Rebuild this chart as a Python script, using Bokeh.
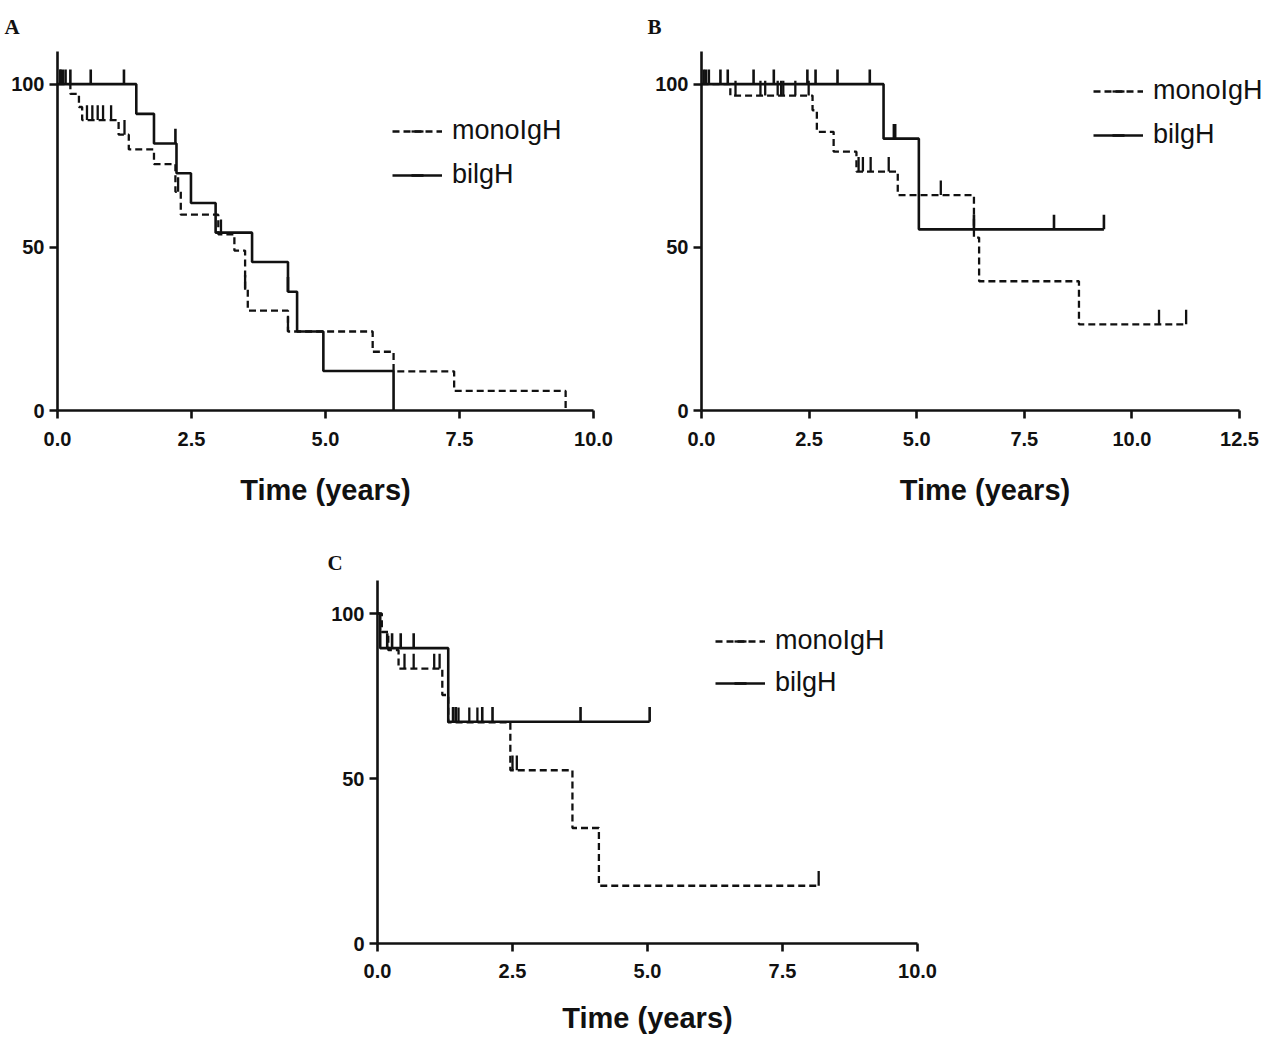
import numpy as np
from bokeh.plotting import figure
from bokeh.layouts import column, row
from bokeh.models import (ColumnDataSource, Range1d, FixedTicker, Legend, LegendItem,
                          NumeralTickFormatter, Spacer)
from bokeh.embed import file_html
from bokeh.resources import INLINE

# ---------------- data ----------------
# Panel A
a_mono_t = [0, 0.24, 0.40, 0.46, 1.14, 1.33, 1.80, 2.20, 2.30, 3.00, 3.30, 3.50, 3.55, 4.30, 5.88, 6.27, 7.40, 9.48]
a_mono_s = [100, 97, 93, 89, 84.5, 80, 75.5, 67, 60, 54, 49, 37, 30.6, 24.2, 18, 12, 6, 0]
a_mono_cens = [0.05, 0.10, 0.55, 0.65, 0.75, 0.85, 1.00, 1.25, 2.25, 3.05, 3.50, 4.30]
a_bi_t = [0, 1.47, 1.80, 2.22, 2.49, 2.95, 3.63, 4.30, 4.47, 4.96, 6.27]
a_bi_s = [100, 90.9, 81.8, 72.7, 63.6, 54.5, 45.5, 36.4, 24.2, 12.1, 0]
a_bi_cens = [0.06, 0.15, 0.24, 0.62, 1.24, 2.20, 4.30]

# Panel B
b_mono_t = [0, 0.67, 2.58, 2.68, 3.07, 3.60, 4.56, 6.33, 6.45, 8.77, 11.26]
b_mono_s = [100, 96.5, 92, 85.4, 79.3, 73.2, 66, 53, 39.6, 26.4, 26.4]
b_mono_cens = [0.79, 1.37, 1.48, 1.77, 1.85, 1.90, 2.18, 2.49, 3.65, 3.75, 3.93, 4.35, 5.56, 10.63, 11.26]
b_bi_t = [0, 4.23, 5.05, 9.35]
b_bi_s = [100, 83.3, 55.5, 55.5]
b_bi_cens = [0.05, 0.10, 0.17, 0.44, 0.61, 1.21, 1.68, 2.46, 2.65, 3.16, 3.91, 4.47, 4.50, 6.33, 8.19, 9.35]

# Panel C
c_mono_t = [0, 0.08, 0.20, 0.39, 1.20, 1.31, 2.46, 3.61, 4.10, 8.17]
c_mono_s = [100, 94.4, 88.9, 83.3, 75.3, 67, 52.5, 35, 17.5, 17.5]
c_mono_cens = [0.50, 0.67, 1.05, 1.15, 1.40, 1.50, 1.70, 1.85, 2.50, 2.58, 8.17]
c_bi_t = [0, 0.05, 1.31, 5.04]
c_bi_s = [100, 89.5, 67.2, 67.2]
c_bi_cens = [0.18, 0.27, 0.43, 0.67, 1.40, 1.45, 1.94, 2.13, 3.76, 5.04]

series_labels = ["monoIgH", "bilgH"]
x_ticks_A = [0, 2.5, 5, 7.5, 10]
x_ticks_B = [0, 2.5, 5, 7.5, 10, 12.5]
x_ticks_C = [0, 2.5, 5, 7.5, 10]
y_ticks = [0, 50, 100]
x_label = "Time (years)"

# ---------------- style ----------------
INK = "#111111"
FONT = "Liberation Sans"
CENS_LEN = 4.5   # censor tick length, in % units


def levels_at(times, surv, cens):
    t = np.asarray(times, dtype=float)
    s = np.asarray(surv, dtype=float)
    c = np.asarray(cens, dtype=float)
    idx = np.searchsorted(t, c, side="right") - 1
    idx = np.clip(idx, 0, len(s) - 1)
    for k, ci in enumerate(c):
        if idx[k] > 0 and ci == t[idx[k]] and s[idx[k]] == 0:
            idx[k] -= 1
    return s[idx]


def make_panel(letter, xmax, xend, xticks, mono, bi, fw, fh, bl, br, bt, bb,
               title_off, title_standoff, leg_loc, leg_spacing, lab_standoff, axlab_standoff):
    p = figure(frame_width=fw, frame_height=fh, min_border_left=bl, min_border_right=br,
               min_border_top=bt, min_border_bottom=bb,
               x_range=Range1d(0, xend), y_range=Range1d(0, 110),
               output_backend="svg", toolbar_location=None,
               background_fill_color="white", border_fill_color="white")
    p.outline_line_color = None
    p.grid.visible = False

    p.title.text = letter
    p.title.text_font = "Liberation Serif"
    p.title.text_font_style = "bold"
    p.title.text_font_size = "21px"
    p.title.align = "left"
    p.title.offset = title_off
    p.title.standoff = title_standoff
    p.title.text_color = INK

    for ax in (p.xaxis[0], p.yaxis[0]):
        ax.axis_line_width = 2.6
        ax.axis_line_color = INK
        ax.major_tick_line_width = 2.6
        ax.major_tick_line_color = INK
        ax.major_tick_out = 8
        ax.major_tick_in = 0
        ax.minor_tick_line_color = None
        ax.major_label_text_font = FONT
        ax.major_label_text_font_style = "bold"
        ax.major_label_text_font_size = "20px"
        ax.major_label_text_color = INK
    p.xaxis.bounds = (0, xmax)
    p.xaxis.ticker = FixedTicker(ticks=xticks)
    p.xaxis.formatter = NumeralTickFormatter(format="0.0")
    p.xaxis.major_label_standoff = lab_standoff
    p.yaxis.ticker = FixedTicker(ticks=y_ticks)
    p.yaxis.formatter = NumeralTickFormatter(format="0")
    p.yaxis.major_label_standoff = 5
    p.xaxis.axis_label = x_label
    p.xaxis.axis_label_text_font = FONT
    p.xaxis.axis_label_text_font_style = "bold"
    p.xaxis.axis_label_text_font_size = "29px"
    p.xaxis.axis_label_text_color = INK
    p.xaxis.axis_label_standoff = axlab_standoff

    (mt, ms, mc), (bt_, bs, bc) = mono, bi
    src_m = ColumnDataSource(dict(t=mt, s=ms))
    src_b = ColumnDataSource(dict(t=bt_, s=bs))
    r_m = p.step("t", "s", source=src_m, mode="after", line_color=INK, line_width=2.3,
                 line_dash="7 4")
    r_b = p.step("t", "s", source=src_b, mode="after", line_color=INK, line_width=2.6)

    # censor ticks: short vertical marks standing on the curve
    lm = levels_at(mt, ms, mc)
    lb = levels_at(bt_, bs, bc)
    tick_px = CENS_LEN * fh / 110.0
    cm = ColumnDataSource(dict(x=mc, y=lm + CENS_LEN / 2))
    cb = ColumnDataSource(dict(x=bc, y=lb + CENS_LEN / 2))
    t_m = p.scatter("x", "y", source=cm, marker="dash", angle=np.pi / 2, size=tick_px,
                    line_color=INK, line_width=2.3)
    t_b = p.scatter("x", "y", source=cb, marker="dash", angle=np.pi / 2, size=tick_px,
                    line_color=INK, line_width=2.6)

    legend = Legend(items=[LegendItem(label=series_labels[0], renderers=[r_m, t_m]),
                           LegendItem(label=series_labels[1], renderers=[r_b, t_b])],
                    location=leg_loc, border_line_alpha=0, background_fill_alpha=0,
                    label_text_font=FONT, label_text_font_size="27px",
                    label_text_color=INK, glyph_width=50, glyph_height=30,
                    label_height=30, spacing=leg_spacing, padding=0, margin=0,
                    label_standoff=10)
    p.add_layout(legend)
    return p


pA = make_panel("A", 10, 10, x_ticks_A, (a_mono_t, a_mono_s, a_mono_cens),
                (a_bi_t, a_bi_s, a_bi_cens), 536, 359, 57, 43, 51, 95, -53, 25, (335, 220), 13,
                13, 25)
pB = make_panel("B", 12.5, 12.5 * 567 / 538, x_ticks_B, (b_mono_t, b_mono_s, b_mono_cens),
                (b_bi_t, b_bi_s, b_bi_cens), 567, 359, 65, 0, 51, 95, -54, 25, (392, 260), 13,
                13, 25)
pC = make_panel("C", 10, 10, x_ticks_C, (c_mono_t, c_mono_s, c_mono_cens),
                (c_bi_t, c_bi_s, c_bi_cens), 540, 363, 69, 60, 72, 94, -50, 12, (338, 245), 11,
                12, 21)

layout = column(row(pA, pB), row(Spacer(width=308, height=10), pC))

with open("out.html", "w") as f:
    f.write(file_html(layout, INLINE))
